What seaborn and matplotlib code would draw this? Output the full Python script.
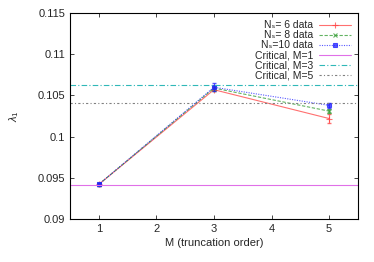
import matplotlib
matplotlib.use("Agg")
import matplotlib.pyplot as plt
import numpy as np
import pandas as pd
import seaborn as sns

M = [1, 3, 5]
lam_n6 = [0.0942, 0.1057, 0.1022]
err_n6 = [0.0002, 0.0002, 0.0006]
lam_n8 = [0.0942, 0.1059, 0.1031]
err_n8 = [0.0002, 0.0003, 0.0002]
lam_n10 = [0.0942, 0.1060, 0.1038]
err_n10 = [0.0002, 0.0005, 0.0003]
crit_levels = [0.09416, 0.10624, 0.10404]

series_labels = ["N\u209b= 6 data", "N\u209b= 8 data", "N\u209b=10 data"]
crit_labels = ["Critical, M=1", "Critical, M=3", "Critical, M=5"]

sns.set_style("ticks")
plt.rcParams["font.family"] = ["Liberation Sans", "DejaVu Sans"]
plt.rcParams["mathtext.fontset"] = "custom"
plt.rcParams["mathtext.rm"] = "Liberation Sans"
plt.rcParams["mathtext.it"] = "Liberation Sans:italic"

fig = plt.figure(figsize=(3.74, 2.62), dpi=100)
ax = fig.add_axes([0.187, 0.164, 0.770, 0.786])

SERIES_COLORS = ["#ff4040", "#2f9a2f", "#2020ff"]
SERIES_LS = ["-", (0, (3, 1.5)), (0, (1, 1.2))]
SERIES_MK = ["+", "x", "s"]
SERIES_MS = [4, 3.5, 2.5]

frames = []
for lab, vals, errs in zip(series_labels, [lam_n6, lam_n8, lam_n10], [err_n6, err_n8, err_n10]):
    frames.append(pd.DataFrame({"M": M, "lam": vals, "err": errs, "series": lab}))
df = pd.concat(frames, ignore_index=True)

handles = []
for lab, col, ls, mk, ms in zip(series_labels, SERIES_COLORS, SERIES_LS, SERIES_MK, SERIES_MS):
    sub = df[df["series"] == lab]
    sns.lineplot(data=sub, x="M", y="lam", ax=ax, color=col, linestyle=ls,
                 linewidth=0.8, marker=mk, markersize=ms, markeredgewidth=0.8,
                 markeredgecolor=col, alpha=0.75, legend=False)
    ax.errorbar(sub["M"], sub["lam"], yerr=sub["err"], fmt="none", ecolor=col,
                elinewidth=0.8, capsize=1.5, alpha=0.75)
    h, = ax.plot([], [], color=col, linestyle=ls, linewidth=0.8, marker=mk,
                 markersize=ms, markeredgewidth=0.8, alpha=0.75, label=lab)
    handles.append(h)

CRIT_COLORS = ["#e070e8", "#30b8b8", "#808080"]
CRIT_LS = ["-", (0, (5, 2, 1, 2)), (0, (2, 2, 1, 2))]
for lev, lab, col, ls in zip(crit_levels, crit_labels, CRIT_COLORS, CRIT_LS):
    h = ax.axhline(lev, color=col, linestyle=ls, linewidth=0.8, label=lab)
    handles.append(h)

ax.set_xlim(0.5, 5.5)
ax.set_ylim(0.09, 0.115)
ax.set_xticks([1, 2, 3, 4, 5])
ax.set_yticks([0.09, 0.095, 0.1, 0.105, 0.11, 0.115])
ax.set_yticklabels(["0.09", "0.095", "0.1", "0.105", "0.11", "0.115"])
ax.tick_params(direction="in", top=True, right=True, labelsize=8, length=3, width=0.6)
for s in ax.spines.values():
    s.set_visible(True)
    s.set_linewidth(0.8)
    s.set_color("black")

ax.set_xlabel("M (truncation order)", fontsize=8, labelpad=3)
ax.set_ylabel(r"$\lambda_1$", fontsize=8, labelpad=12)

leg = ax.legend(handles=handles, loc="upper right", frameon=False, fontsize=7.5,
                markerfirst=False, handlelength=3.0, handletextpad=0.6,
                labelspacing=0.0, borderaxespad=0.4, borderpad=0.3)
for t in leg.get_texts():
    t.set_ha("right")

fig.savefig("out.png", dpi=100)
